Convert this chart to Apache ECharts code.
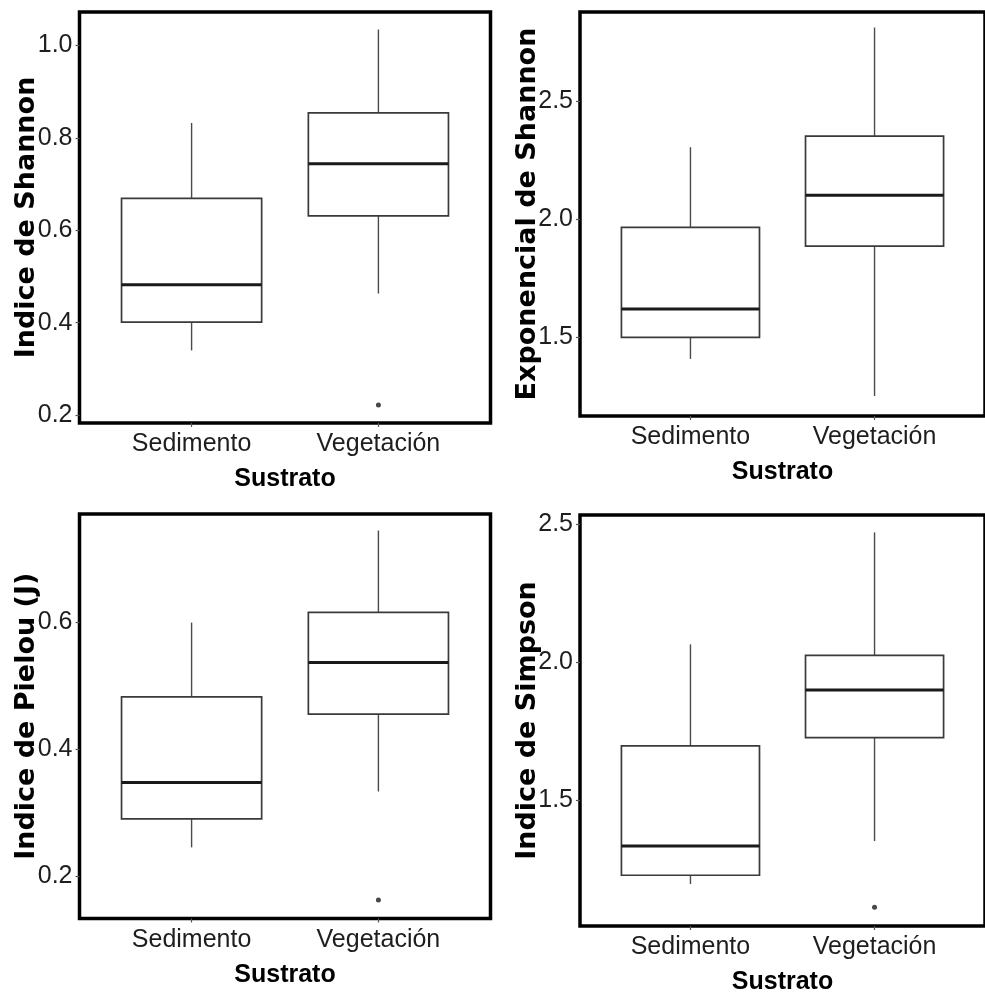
<!DOCTYPE html>
<html>
<head>
<meta charset="utf-8">
<script src="https://cdn.jsdelivr.net/npm/echarts@6/dist/echarts.min.js"></script>
<style>
html,body{margin:0;padding:0;background:#fff;}
#chart{width:985px;height:998px;}
</style>
</head>
<body>
<div id="chart"></div>
<script>
// ---- data ----
const categories = ['Sedimento', 'Vegetación'];
const xTitle = 'Sustrato';

// [lower whisker, Q1, median, Q3, upper whisker] per category
const shannonStats = [[0.340, 0.401, 0.482, 0.669, 0.832], [0.463, 0.631, 0.744, 0.854, 1.034]];
const shannonOutliers = [[], [0.222]];
const expShannonStats = [[1.407, 1.498, 1.618, 1.964, 2.304], [1.250, 1.885, 2.100, 2.351, 2.811]];
const expShannonOutliers = [[], []];
const pielouStats = [[0.246, 0.291, 0.348, 0.483, 0.600], [0.334, 0.456, 0.537, 0.616, 0.745]];
const pielouOutliers = [[], [0.163]];
const simpsonStats = [[1.195, 1.227, 1.333, 1.696, 2.064], [1.351, 1.726, 1.899, 2.024, 2.470]];
const simpsonOutliers = [[], [1.111]];

const shannonTicks = [0.2, 0.4, 0.6, 0.8, 1.0];
const expShannonTicks = [1.5, 2.0, 2.5];
const pielouTicks = [0.2, 0.4, 0.6];
const simpsonTicks = [1.5, 2.0, 2.5];

const titles = ['Indice de Shannon', 'Exponencial de Shannon', 'Indice de Pielou (J)', 'Indice de Simpson'];

// ---- layout / style ----
const panels = [
  {stats: shannonStats, out: shannonOutliers, ticks: shannonTicks, dec: 1, range: [0.183, 1.072],
   grid: {left: 79.5, top: 12, width: 411, height: 411}},
  {stats: expShannonStats, out: expShannonOutliers, ticks: expShannonTicks, dec: 1, range: [1.165, 2.877],
   grid: {left: 580, top: 12, width: 413, height: 404}},
  {stats: pielouStats, out: pielouOutliers, ticks: pielouTicks, dec: 1, range: [0.134, 0.771],
   grid: {left: 79.5, top: 514, width: 411, height: 404.5}},
  {stats: simpsonStats, out: simpsonOutliers, ticks: simpsonTicks, dec: 1, range: [1.043, 2.533],
   grid: {left: 580, top: 515, width: 413, height: 411}}
];

const BOX_W = 0.75;
const sans = "'Liberation Sans', Arial, sans-serif";

function renderBox(params, api) {
  const x = api.value(0);
  const lo = api.coord([x, api.value(1)]);
  const q1 = api.coord([x, api.value(2)]);
  const med = api.coord([x, api.value(3)]);
  const q3 = api.coord([x, api.value(4)]);
  const hi = api.coord([x, api.value(5)]);
  const w = api.size([BOX_W, 0])[0];
  const cx = q1[0];
  return {
    type: 'group',
    children: [
      {type: 'line', shape: {x1: cx, y1: hi[1], x2: cx, y2: q3[1]}, style: {stroke: '#4a4a4a', lineWidth: 1.4}},
      {type: 'line', shape: {x1: cx, y1: q1[1], x2: cx, y2: lo[1]}, style: {stroke: '#4a4a4a', lineWidth: 1.4}},
      {type: 'rect', shape: {x: cx - w / 2, y: q3[1], width: w, height: q1[1] - q3[1]},
       style: {fill: '#ffffff', stroke: '#3a3a3a', lineWidth: 1.7}},
      {type: 'line', shape: {x1: cx - w / 2, y1: med[1], x2: cx + w / 2, y2: med[1]},
       style: {stroke: '#1a1a1a', lineWidth: 3}}
    ]
  };
}

const grids = [], xAxes = [], yAxes = [], series = [];
panels.forEach((p, i) => {
  grids.push(Object.assign({show: true, borderColor: '#000', borderWidth: 3.5, backgroundColor: '#fff'}, p.grid));
  xAxes.push({
    type: 'value', gridIndex: i, min: 0.4, max: 2.6,
    name: xTitle, nameLocation: 'middle', nameGap: 44,
    nameTextStyle: {fontFamily: sans, fontWeight: 'bold', fontSize: 25, color: '#000'},
    axisLine: {show: false},
    axisTick: {show: true, length: 4, customValues: [1, 2], lineStyle: {color: '#555', width: 1.2}},
    axisLabel: {customValues: [1, 2], margin: 9, fontFamily: sans, fontSize: 25, color: '#1e1e1e',
      formatter: v => categories[Math.round(v) - 1] || ''},
    splitLine: {show: false}
  });
  yAxes.push({
    type: 'value', gridIndex: i, min: p.range[0], max: p.range[1],
    name: titles[i], nameLocation: 'middle', nameGap: 39, nameRotate: 90, nameMoveOverlap: false,
    nameTextStyle: {fontFamily: "'DejaVu Sans', sans-serif", fontWeight: 'bold', fontSize: 27, color: '#000'},
    axisLine: {show: false},
    axisTick: {show: true, length: 4, customValues: p.ticks, lineStyle: {color: '#555', width: 1.2}},
    axisLabel: {customValues: p.ticks, margin: 7, fontFamily: sans, fontSize: 25, color: '#1e1e1e',
      formatter: v => v.toFixed(p.dec)},
    splitLine: {show: false}
  });
  series.push({
    type: 'custom', xAxisIndex: i, yAxisIndex: i,
    renderItem: renderBox,
    encode: {x: 0, y: [1, 2, 3, 4, 5]},
    data: p.stats.map((s, k) => [k + 1].concat(s)),
    silent: true, z: 2
  });
  const outs = [];
  p.out.forEach((vals, k) => vals.forEach(v => outs.push([k + 1, v])));
  series.push({
    type: 'scatter', xAxisIndex: i, yAxisIndex: i, data: outs,
    symbol: 'circle', symbolSize: 5, itemStyle: {color: '#1a1a1a'}, silent: true, z: 3
  });
});

const chart = echarts.init(document.getElementById('chart'), null, {renderer: 'canvas'});
chart.setOption({
  animation: false,
  backgroundColor: '#ffffff',
  grid: grids, xAxis: xAxes, yAxis: yAxes, series: series
});
</script>
</body>
</html>
